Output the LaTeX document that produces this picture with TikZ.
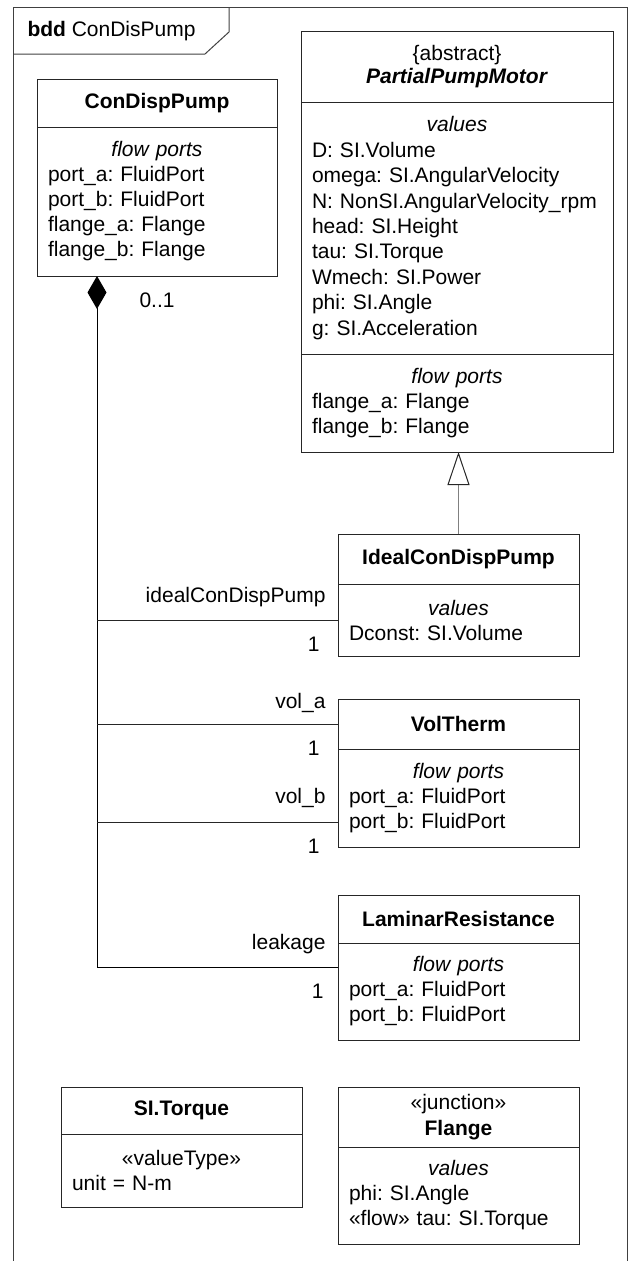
\documentclass[tikz,border=0pt]{standalone}
\usepackage{fontspec}
\setmainfont{Liberation Sans}
\usetikzlibrary{
  arrows.meta,
  calc,
  positioning,
}
\tikzset{
  >=Straight Barb[],
  head/.style={draw=black!85, text width=#1, inner xsep=11pt, inner ysep=0pt,
    outer sep=0pt, align=center, font=\bfseries},
  head/.default=219pt,
  comp/.style={draw=black!85, text width=#1, inner xsep=11pt, inner ysep=0pt,
    outer sep=0pt, align=left},
  comp/.default=219pt,
  role/.style={anchor=base east, inner sep=0pt, text=black, xshift=-12pt, yshift=18pt},
  mult/.style={anchor=base east, inner sep=0pt, text=black, xshift=-18pt, yshift=-31pt},
}
\newcommand{\secttitle}[1]{\makebox[\linewidth]{\itshape #1}}

\begin{document}
\fontsize{21}{25}\selectfont\frenchspacing
\begin{tikzpicture}[x=1pt, y=-1pt, line width=1pt]
  \useasboundingbox (0,0) rectangle (640,1261);

  % diagram frame and its name tab
  \draw[black!75] (13,1261) -- (13,7) -- (627,7) -- (627,1261);
  \draw[black!75] (13,54) -- (205,54) -- (229,32) -- (229,7);
  \node[anchor=west, inner sep=0pt] (frame) at (27,31) {\textbf{bdd} ConDisPump};

  % owning block
  \node[head=218pt, minimum height=48pt, anchor=north west] (pump) at (37,79) {ConDispPump};
  \node[comp=218pt, minimum height=149pt, below=0pt of pump] (pump-f)
    {\secttitle{flow ports}\\
     port\_a: FluidPort\\
     port\_b: FluidPort\\
     flange\_a: Flange\\
     flange\_b: Flange};

  % abstract base block
  \node[head=290pt, minimum height=71pt, anchor=north west,
    font=\bfseries\fontsize{21}{23}\selectfont] (motor) at (301,31)
    {\textmd{\{abstract\}}\\ \textit{PartialPumpMotor}};
  \node[comp=290pt, minimum height=252pt, below=0pt of motor,
    font=\fontsize{21}{25.4}\selectfont] (motor-v)
    {\secttitle{values}\\
     D: SI.Volume\\
     omega: SI.AngularVelocity\\
     N: NonSI.AngularVelocity\_rpm\\
     head: SI.Height\\
     tau: SI.Torque\\
     Wmech: SI.Power\\
     phi: SI.Angle\\
     g: SI.Acceleration};
  \node[comp=290pt, minimum height=98pt, below=0pt of motor-v] (motor-f)
    {\secttitle{flow ports}\\
     flange\_a: Flange\\
     flange\_b: Flange};

  % parts
  \node[head, minimum height=50pt, anchor=north west] (ideal) at (338,534) {IdealConDispPump};
  \node[comp, minimum height=72pt, below=0pt of ideal] (ideal-v)
    {\secttitle{values}\\
     Dconst: SI.Volume};

  \node[head, minimum height=50pt, below=43pt of ideal-v] (vol) {VolTherm};
  \node[comp, minimum height=98pt, below=0pt of vol] (vol-f)
    {\secttitle{flow ports}\\
     port\_a: FluidPort\\
     port\_b: FluidPort};

  \node[head, minimum height=48pt, below=48pt of vol-f] (lam) {LaminarResistance};
  \node[comp, minimum height=97pt, below=0pt of lam] (lam-f)
    {\secttitle{flow ports}\\
     port\_a: FluidPort\\
     port\_b: FluidPort};

  % types
  \node[head, minimum height=60pt, below=47pt of lam-f,
    font=\bfseries\fontsize{21}{26}\selectfont] (flange)
    {\textmd{«junction»}\\ Flange};
  \node[comp, minimum height=97pt, below=0pt of flange] (flange-v)
    {\secttitle{values}\\
     phi: SI.Angle\\
     «flow» tau: SI.Torque};

  \node[head, minimum height=47pt, anchor=north west] (torque) at (61,1087) {SI.Torque};
  \node[comp, minimum height=73pt, below=0pt of torque] (torque-v)
    {\makebox[\linewidth]{«valueType»}\\
     unit = N-m};

  % generalization
  \draw[gray, -{Triangle[open, length=33pt, width=22pt, color=black!85]}]
    (ideal.north) -- (ideal.north |- motor-f.south);

  % composition
  \coordinate (hub) at ([xshift=60pt]pump-f.south west);
  \coordinate (ideal-in) at (ideal-v.west);
  \coordinate (vola-in) at (vol.west);
  \coordinate (volb-in) at ([yshift=25pt]vol-f.south west);
  \coordinate (leak-in) at ([yshift=-24pt]lam-f.north west);

  \draw[{Diamond[length=33pt, width=19pt]}-] (hub) -- (hub |- leak-in) -- (leak-in)
    node[role] {leakage}
    node[mult, xshift=4pt] {1};
  \node[anchor=base west, inner sep=0pt] (top-mult) at ([xshift=42pt, yshift=-31pt]hub) {0..1};

  \draw[black!85] (hub |- ideal-in) -- (ideal-in)
    node[role] {idealConDispPump}
    node[mult] {1};
  \draw[black!85] (hub |- vola-in) -- (vola-in)
    node[role, yshift=-2pt] {vol\_a}
    node[mult] {1};
  \draw[black!85] (hub |- volb-in) -- (volb-in)
    node[role, yshift=1pt] {vol\_b}
    node[mult] {1};
\end{tikzpicture}
\end{document}
